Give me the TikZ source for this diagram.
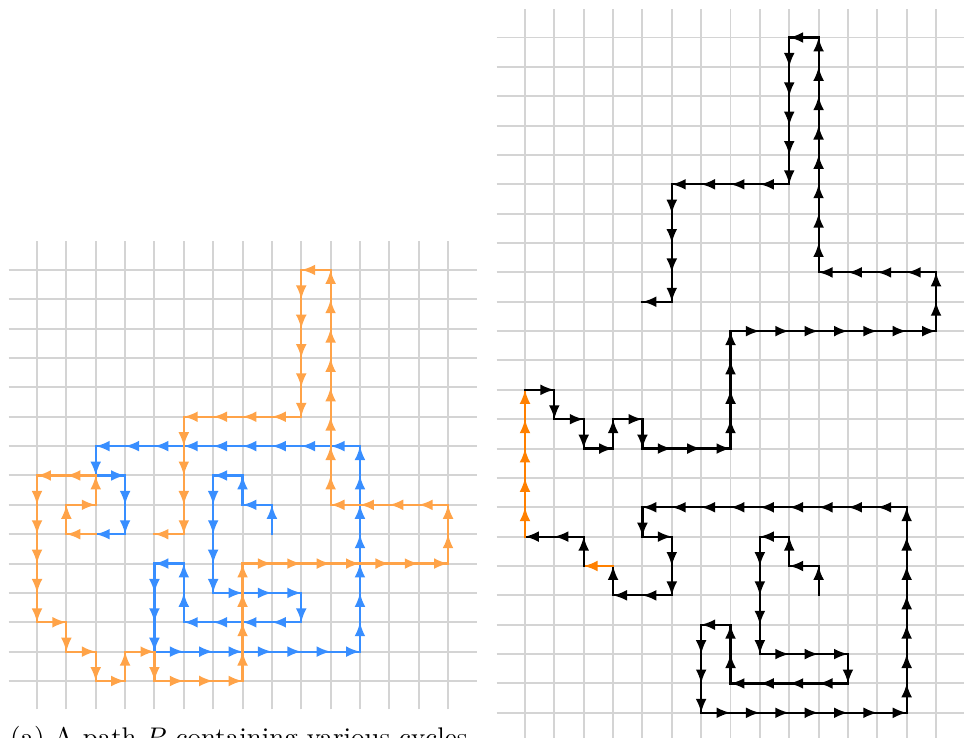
\documentclass[tikz,border=0pt]{standalone}
\usetikzlibrary{arrows.meta}
\definecolor{gridgray}{RGB}{212,212,212}
\definecolor{lorange}{RGB}{255,163,72}
\definecolor{lblue}{RGB}{56,142,255}
\definecolor{rorange}{RGB}{255,128,0}
\tikzset{
  gline/.style={draw=gridgray,line width=1.9pt},
  pathline/.style={line width=2.1pt,line cap=rect},
  tipped/.style={-{Latex[length=13.5pt,width=10.5pt]}},
}
\newcommand\walk[2]{%
  \foreach \x/\y [count=\cnt, remember=\x as \px (initially 0), remember=\y as \py (initially 0)] in {#2}{%
    \ifnum\cnt>1
      \draw[pathline,#1] (\px,\py) -- (\x,\y);
      \pgfmathtruncatemacro\nsteps{abs(\x-\px)+abs(\y-\py)}%
      \foreach \k in {1,...,\nsteps}{%
        \draw[pathline,#1,tipped] ({\px+(\x-\px)*(\k-1)/\nsteps},{\py+(\y-\py)*(\k-1)/\nsteps}) -- ({\px+(\x-\px)*\k/\nsteps},{\py+(\y-\py)*\k/\nsteps});
      }%
    \fi
  }%
}
\begin{document}
\begin{tikzpicture}
\useasboundingbox (-1.2606,-1.941) rectangle (31.574,23.195);
% left grid
\foreach \i in {0,...,14} \draw[gline] (\i,-0.97) -- (\i,14.97);
\foreach \j in {0,...,14} \draw[gline] (-0.97,\j) -- (14.97,\j);
% left path: blue part then orange part
\walk{lblue}{8/5,8/6,7/6,7/7,6/7,6/3,9/3,9/2,5/2,5/4,4/4,4/1,11/1,11/8,2/8,2/7,3/7,3/5,2/5}
\walk{lorange}{2/5,1/5,1/6,2/6,2/7,0/7,0/2,1/2,1/1,2/1,2/0,3/0,3/1,4/1,4/0,7/0,7/4,14/4,14/6,10/6,10/14,9/14,9/9,5/9,5/5,4/5}
\node[anchor=base west,inner sep=0pt] (cap) at (-0.92,-2.24) {\resizebox{15.57cm}{!}{(a) A path $P$ containing various cycles}};
% right grid
\begin{scope}[shift={(16.621,-1.083)}]
\foreach \i in {0,...,14} \draw[gline] (\i,-0.97) -- (\i,23.97);
\foreach \j in {0,...,23} \draw[gline] (-0.97,\j) -- (14.97,\j);
\walk{black}{10/4,10/5,9/5,9/6,8/6,8/2,11/2,11/1,7/1,7/3,6/3,6/0,13/0,13/7,4/7,4/6,5/6,5/4,3/4,3/5}
\walk{rorange}{3/5,2/5}
\walk{black}{2/5,2/6,0/6}
\walk{rorange}{0/6,0/11}
\walk{black}{0/11,1/11,1/10,2/10,2/9,3/9,3/10,4/10,4/9,7/9,7/13,14/13,14/15,10/15,10/23,9/23,9/18,5/18,5/14,4/14}
\end{scope}
\end{tikzpicture}
\end{document}
